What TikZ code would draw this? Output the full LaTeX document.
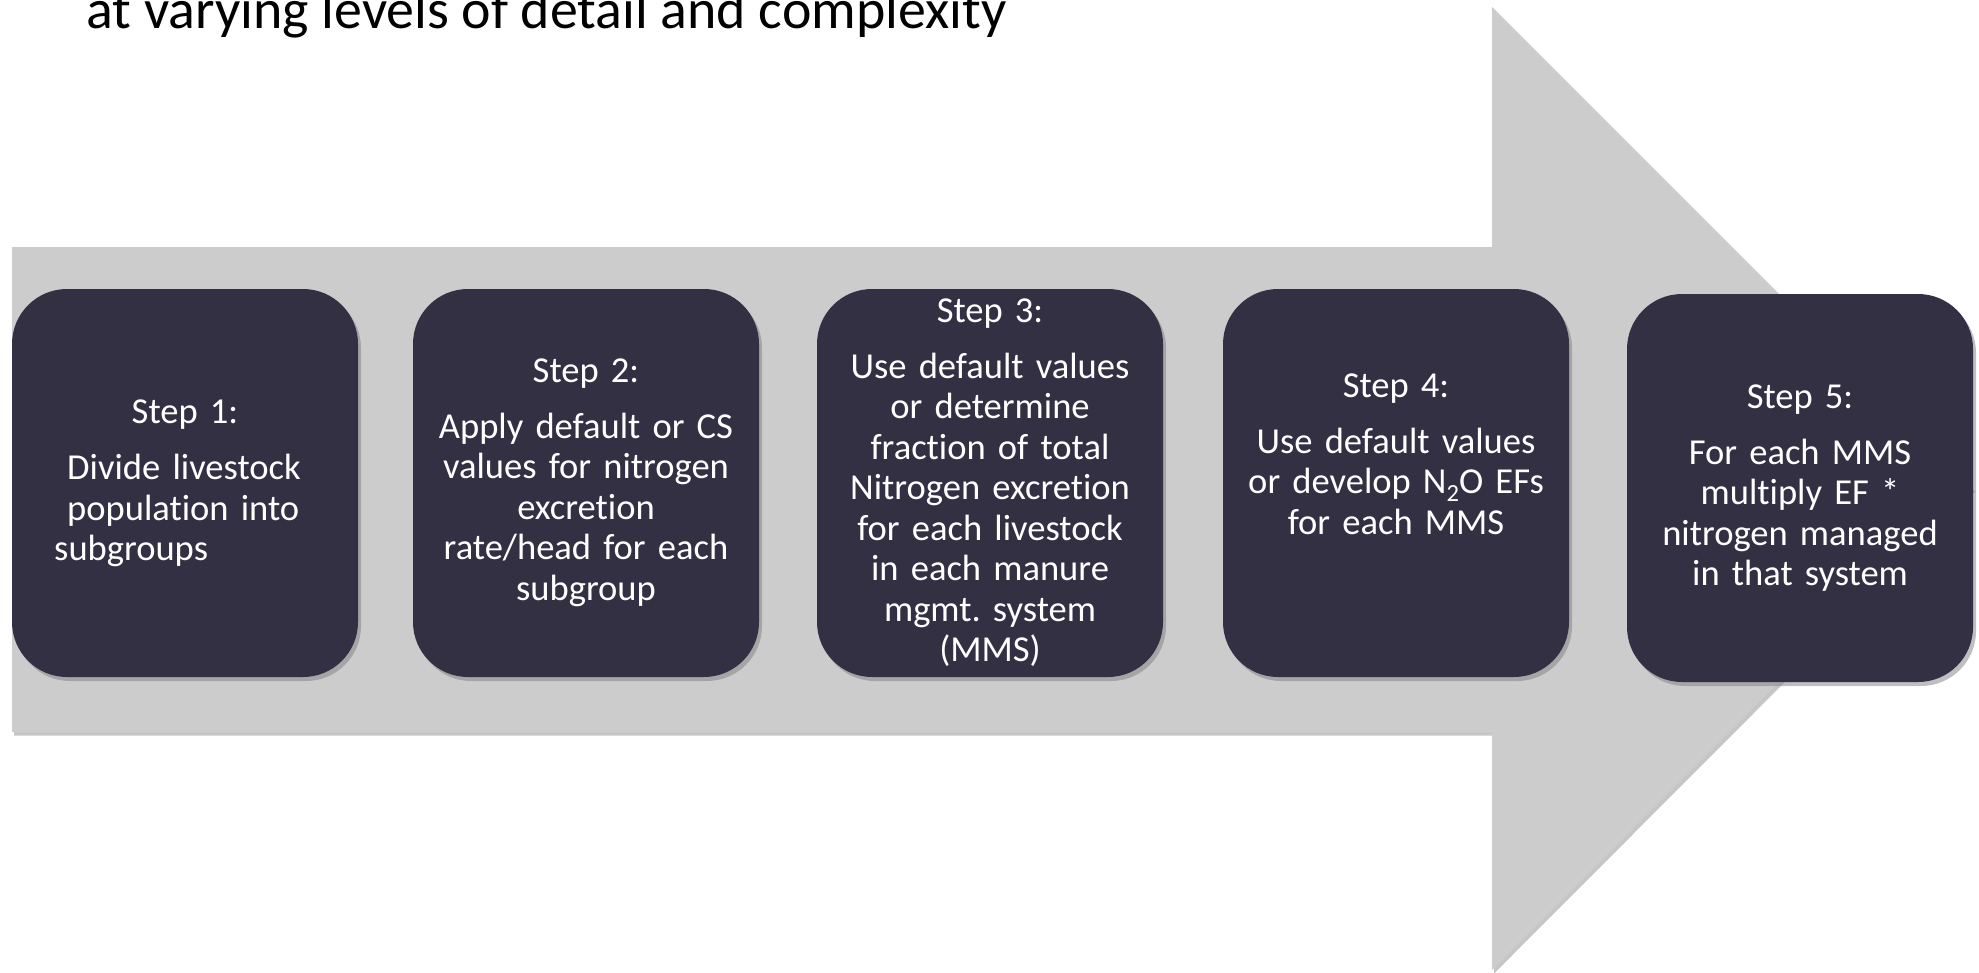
\documentclass[tikz,border=0pt]{standalone}
\usepackage{fontspec}
\setmainfont{Carlito}[Ligatures=NoCommon]
\usetikzlibrary{shadows}
\definecolor{shaftgray}{RGB}{204,204,204}
\definecolor{stepnavy}{RGB}{51,48,68}
\frenchspacing

\begin{document}
\begin{tikzpicture}[x=0.1mm,y=-0.1mm,
  arrowshape/.style={fill=shaftgray,
    drop shadow={shadow xshift=0.2mm, shadow yshift=-0.35mm, opacity=0.45}},
  stepbox/.style={fill=stepnavy, rounded corners=5.5mm, inner sep=0pt,
    minimum width=34.6mm, minimum height=38.8mm,
    drop shadow={shadow xshift=0.3mm, shadow yshift=-0.4mm, opacity=0.5}},
  steptext/.style={text=white, font=\fontsize{10.4pt}{11.53pt}\selectfont,
    align=center, anchor=base, inner sep=0pt, text width=34mm},
  titletext/.style={anchor=base west, inner sep=0pt,
    font=\fontsize{15.9pt}{19pt}\selectfont}
]
\useasboundingbox (0,0) rectangle (1979,972);

% heading, partly above the page edge
\node[titletext] (title) at (86,29) {at varying levels of detail and complexity};

% large grey block arrow behind the steps
\path[arrowshape] (12,247) -- (1492,247) -- (1492,7) -- (1973,488)
  -- (1492,970) -- (1492,732) -- (12,732) -- cycle;

% step boxes
\node[stepbox] (b1) at (185,483) {};
\node[stepbox] (b2) at (586,483) {};
\node[stepbox] (b3) at (990,483) {};
\node[stepbox] (b4) at (1396,483) {};
\node[stepbox] (b5) at (1800,488) {};

% step texts
\node[steptext] (t1) at (185,423) {Step 1:\\[1.6mm]
  \begin{tabular}[t]{@{}l@{}}\hspace{1.3mm}Divide livestock\\
  \hspace{1.3mm}population into\\subgroups\end{tabular}\kern1.5mm};
\node[steptext] (t2) at (586,382) {Step 2:\\[1.55mm]
  Apply default or CS\\values for nitrogen\\excretion\\rate/head for each\\subgroup};
\node[steptext] (t3) at (990,322) {Step 3:\\[1.55mm]
  Use default values\\or determine\\fraction of total\\Nitrogen excretion\\for each livestock\\in each manure\\mgmt. system\\(MMS)};
\node[steptext] (t4) at (1396,397) {Step 4:\\[1.55mm]
  Use default values\\or develop N\raisebox{-0.45ex}{\fontsize{7pt}{8pt}\selectfont 2}O EFs\\for each MMS};
\node[steptext] (t5) at (1800,408) {Step 5:\\[1.55mm]
  For each MMS\\multiply EF *\\nitrogen managed\\in that system};
\end{tikzpicture}
\end{document}
